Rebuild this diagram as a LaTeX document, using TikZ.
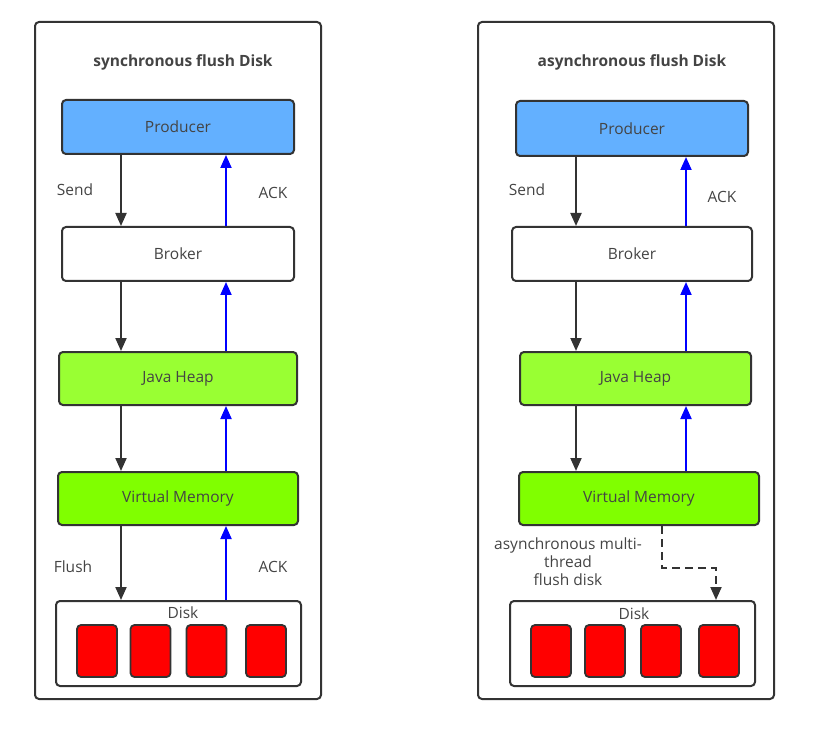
\documentclass[tikz,border=0pt]{standalone}
\usepackage{fontspec}
\setmainfont{Open Sans}
\usepackage{tikz}
\usetikzlibrary{arrows.meta}

\definecolor{prodblue}{RGB}{99,176,255}
\definecolor{heapgreen}{RGB}{153,255,51}
\definecolor{vmgreen}{RGB}{128,255,0}
\definecolor{linegray}{RGB}{51,51,51}
\definecolor{textgray}{RGB}{68,68,68}

\begin{document}
\begin{tikzpicture}[x=1pt, y=-1pt, > = {Triangle[length=13pt, width=11pt]}, font=\fontsize{15.5}{18}\selectfont]
        \tikzstyle{panel}=[draw=linegray, line width=2pt, rounded corners=4pt, minimum width=286pt, minimum height=677pt, inner sep=0pt]
        \tikzstyle{block}=[draw=linegray, line width=2pt, rounded corners=4pt, minimum height=54pt, inner sep=0pt, text=textgray]
        \tikzstyle{cell}=[draw=linegray, line width=1.8pt, fill=red, rounded corners=4pt, minimum width=40pt, minimum height=52pt, inner sep=0pt]
        \tikzstyle{lbl}=[text=textgray, inner sep=1pt]
        \tikzstyle{down}=[->, line width=2pt, draw=linegray]
        \tikzstyle{up}=[->, line width=2pt, draw=blue]

        \useasboundingbox (0,0) rectangle (817,730);

            % Caixas - esquerda
            \node[panel] (o1) at (178,360.5) {};
            \node[lbl, font=\fontsize{15.5}{18}\selectfont\bfseries] (t1) at (183,62) {synchronous flush Disk};
            \node[block, fill=prodblue, minimum width=232pt] (p1) at (178,127) {Producer};
            \node[block, fill=white, minimum width=232pt] (b1) at (178,254) {Broker};
            \node[block, fill=heapgreen, minimum width=238pt, minimum height=53pt] (h1) at (178,378.5) {Java Heap};
            \node[block, fill=vmgreen, minimum width=240pt, minimum height=53pt] (v1) at (178,498.5) {Virtual Memory};
            \node[block, fill=white, minimum width=245pt, minimum height=85pt] (k1) at (178.5,643.5) {};
            \node[lbl] (d1) at (183,613) {Disk};
            \foreach \x/\n in {97/a, 150.5/b, 206.5/c, 266/d}
                \node[cell] (c1\n) at (\x,651) {};

            % Caixas - direita
            \node[panel, minimum width=296pt] (o2) at (626,360.5) {};
            \node[lbl, font=\fontsize{15.5}{18}\selectfont\bfseries] (t2) at (632,62) {asynchronous flush Disk};
            \node[block, fill=prodblue, minimum width=232pt, minimum height=55pt] (p2) at (632,128.5) {Producer};
            \node[block, fill=white, minimum width=240pt] (b2) at (632,254) {Broker};
            \node[block, fill=heapgreen, minimum width=231pt, minimum height=53pt] (h2) at (635.5,378.5) {Java Heap};
            \node[block, fill=vmgreen, minimum width=240pt, minimum height=53pt] (v2) at (639,498.5) {Virtual Memory};
            \node[block, fill=white, minimum width=245pt, minimum height=85pt] (k2) at (632.5,643.5) {};
            \node[lbl] (d2) at (634,614) {Disk};
            \foreach \x/\n in {551/a, 605/b, 661/c, 719/d}
                \node[cell] (c2\n) at (\x,651) {};

            % Colunas das setas
            \coordinate (dl) at (121,0);
            \coordinate (ul) at (226,0);
            \coordinate (dr) at (576,0);
            \coordinate (ur) at (686,0);
            \coordinate (da) at (662,568);
            \coordinate (db) at (716,0);

            % Setas - esquerda
            \draw[down] (p1.south -| dl) -- (b1.north -| dl);
            \draw[down] (b1.south -| dl) -- (h1.north -| dl);
            \draw[down] (h1.south -| dl) -- (v1.north -| dl);
            \draw[down] (v1.south -| dl) -- (k1.north -| dl);
            \draw[up] (b1.north -| ul) -- (p1.south -| ul);
            \draw[up] (h1.north -| ul) -- (b1.south -| ul);
            \draw[up] (v1.north -| ul) -- (h1.south -| ul);
            \draw[up] (k1.north -| ul) -- (v1.south -| ul);

            % Setas - direita
            \draw[down] (p2.south -| dr) -- (b2.north -| dr);
            \draw[down] (b2.south -| dr) -- (h2.north -| dr);
            \draw[down] (h2.south -| dr) -- (v2.north -| dr);
            \draw[up] (b2.north -| ur) -- (p2.south -| ur);
            \draw[up] (h2.north -| ur) -- (b2.south -| ur);
            \draw[up] (v2.north -| ur) -- (h2.south -| ur);
            \draw[down, dash pattern=on 8pt off 5pt] (v2.south -| da) -- (da) -| (k2.north -| db);

            % Rótulos
            \node[lbl] (s1) at (75,190) {Send};
            \node[lbl] (a1) at (273,193) {ACK};
            \node[lbl] (f1) at (73,567) {Flush};
            \node[lbl] (a3) at (273,567) {ACK};
            \node[lbl] (s2) at (527,190) {Send};
            \node[lbl] (a2) at (722,197) {ACK};
            \node[lbl, align=center] (m2) at (568,562) {asynchronous multi-\\thread\\flush disk};
\end{tikzpicture}
\end{document}
